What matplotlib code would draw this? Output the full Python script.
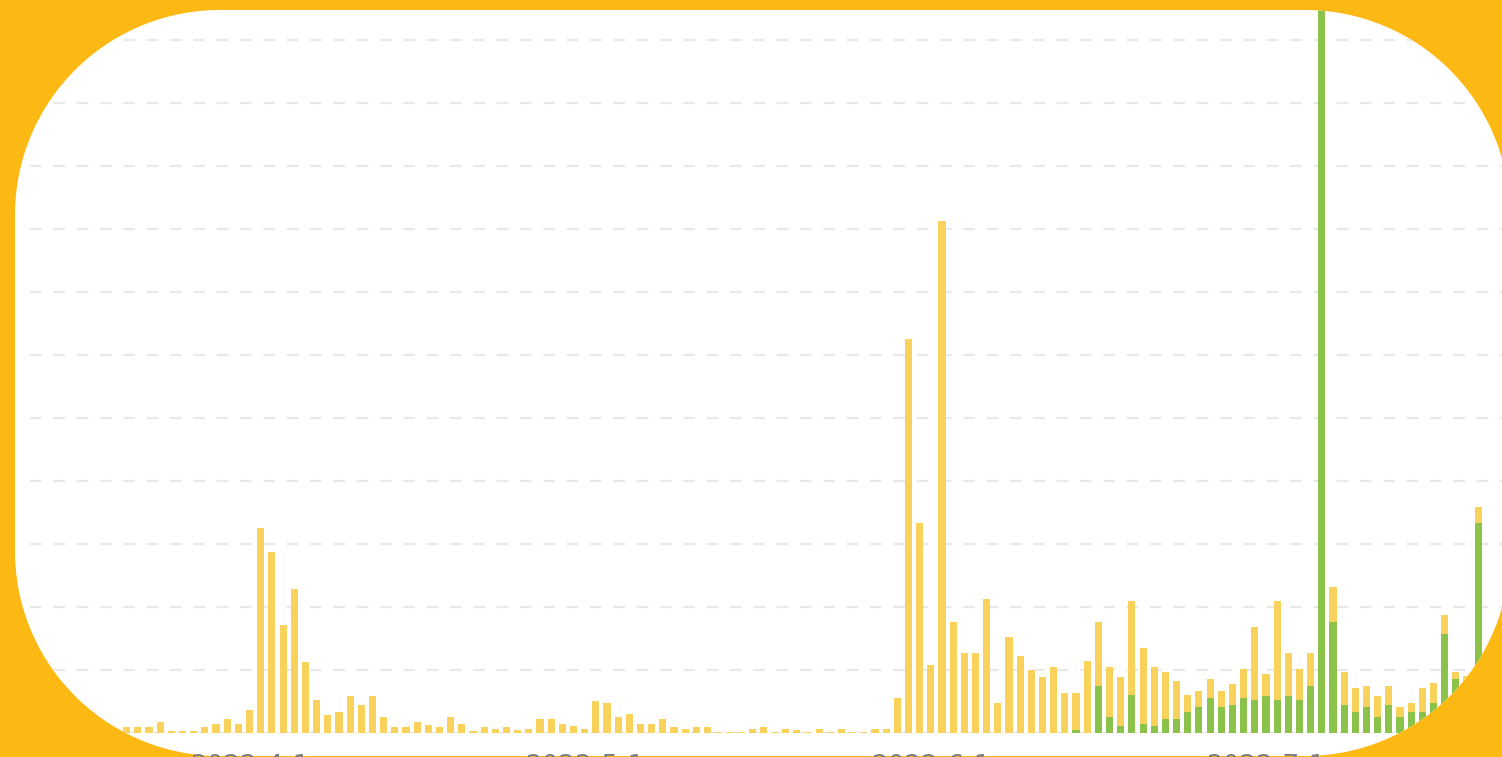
import matplotlib.pyplot as plt
import numpy as np
import pandas as pd
from matplotlib.patches import PathPatch
from matplotlib.path import Path
from matplotlib.transforms import IdentityTransform

plt.rcParams['lines.scale_dashes'] = False

# one bar per day
dates = pd.date_range('2022-03-21', '2022-07-20', freq='D')

total = [10, 10, 10, 18, 3, 3, 3, 10, 14, 22,
         14, 36, 326, 288, 172, 228, 112, 52, 29, 33,
         59, 44, 59, 25, 10, 10, 18, 13, 10, 25,
         14, 3, 10, 6, 10, 5, 6, 22, 22, 14,
         11, 6, 51, 48, 26, 30, 14, 14, 22, 10,
         6, 10, 10, 2, 2, 2, 6, 10, 2, 6,
         5, 2, 6, 2, 6, 2, 2, 6, 6, 55,
         625, 333, 108, 813, 176, 127, 127, 213, 48, 152,
         122, 100, 89, 105, 63, 63, 114, 176, 104, 89,
         210, 135, 105, 97, 83, 60, 67, 86, 67, 78,
         101, 169, 94, 210, 127, 101, 127, 1250, 232, 97,
         71, 75, 59, 75, 41, 48, 71, 79, 187, 97,
         90, 359]

green = [0] * 85 + [4, 0, 75, 26, 11,
                    60, 15, 11, 22, 22, 34, 41, 56, 41, 44,
                    56, 52, 59, 52, 59, 52, 75, 1250, 176, 44,
                    33, 41, 26, 44, 26, 33, 33, 48, 157, 86,
                    80, 333]

yellow = np.array(total) - np.array(green)


def rounded_rect(left, bottom, right, top, r, n=80):
    # circular corners, pixel coords (y up)
    pts = []
    for cx, cy, a0 in [(right - r, bottom + r, -90), (right - r, top - r, 0),
                       (left + r, top - r, 90), (left + r, bottom + r, 180)]:
        a = np.radians(np.linspace(a0, a0 + 90, n))
        pts += list(zip(cx + r * np.cos(a), cy + r * np.sin(a)))
    pts.append(pts[0])
    return Path(pts, closed=True)


W, H = 1502, 757
fig = plt.figure(figsize=(W / 100, H / 100), dpi=100, facecolor='#FDB913')

card = PathPatch(rounded_rect(15, H - 756, 1510, H - 10, 205),
                 transform=IdentityTransform(), facecolor='white',
                 edgecolor='none', zorder=-1)
fig.add_artist(card)

ax = fig.add_axes([30 / W, (H - 733) / H, (1515 - 30) / W, (733 - 10) / H])
ax.set_facecolor('none')

x = np.arange(len(dates))
bars_g = ax.bar(x, green, width=0.64, color='#8BC34A', zorder=3)
bars_y = ax.bar(x, yellow, bottom=green, width=0.64, color='#F9D25B', zorder=3)

ax.set_xlim(-8.66, 124.3)
ax.set_ylim(0, 1147.6)
ax.set_yticks(np.arange(0, 1101, 100))
ax.grid(axis='y', color='#E9E9E9', linewidth=1.6, linestyle=(0, (8.4, 8.4)))
ax.set_axisbelow(True)

tick_pos = [i for i, d in enumerate(dates) if d.day == 1]
tick_lab = [f'{dates[i].year}-{dates[i].month}-{dates[i].day}' for i in tick_pos]
ax.set_xticks(tick_pos, tick_lab)

for s in ax.spines.values():
    s.set_visible(False)
ax.tick_params(axis='y', length=0, labelleft=False)
ax.tick_params(axis='x', length=0, pad=15.2, labelsize=19, labelcolor='#808080')

for b in list(bars_g) + list(bars_y):
    b.set_clip_path(card)
for t in ax.yaxis.get_major_ticks() + ax.xaxis.get_major_ticks():
    t.gridline.set_clip_path(card)
    t.label1.set_clip_path(card)

fig.savefig('out.png', dpi=100, facecolor=fig.get_facecolor())
